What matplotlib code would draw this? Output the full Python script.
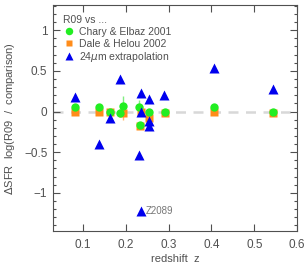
import numpy as np
import matplotlib
matplotlib.use('Agg')
from matplotlib import pyplot as plt
from matplotlib.ticker import MultipleLocator

# Chary & Elbaz 2001
ce_z = [0.082, 0.138, 0.163, 0.187, 0.194, 0.231, 0.255, 0.234, 0.292, 0.407, 0.543]
ce_d = [0.06, 0.06, -0.01, -0.02, 0.07, 0.06, 0.00, -0.16, -0.01, 0.05, 0.00]
ce_err = [0.0, 0.0, 0.0, 0.0, 0.12, 0.08, 0.0, 0.0, 0.0, 0.02, 0.03]

# Dale & Helou 2002
dh_z = [0.082, 0.138, 0.163, 0.194, 0.236, 0.255, 0.234, 0.292, 0.407, 0.543]
dh_d = [-0.01, -0.01, -0.01, -0.02, 0.0, -0.08, -0.18, -0.02, 0.0, -0.02]
dh_err = [0.03, 0.0, 0.0, 0.08, 0.0, 0.1, 0.0, 0.0, 0.0, 0.0]

# 24um extrapolation
ex_z = [0.082, 0.138, 0.163, 0.187, 0.236, 0.255, 0.236, 0.255, 0.255, 0.290,
        0.231, 0.236, 0.407, 0.543]
ex_d = [0.18, -0.40, -0.08, 0.40, 0.23, 0.15, 0.0, -0.12, -0.18, 0.20,
        -0.54, -1.23, 0.53, 0.28]
ex_err = [0.04, 0.0, 0.05, 0.0, 0.0, 0.0, 0.0, 0.0, 0.0, 0.0,
          0.0, 0.0, 0.0, 0.0]

plt.rcParams['font.family'] = ['Liberation Sans', 'DejaVu Sans']
texto = '#505050'

fig = plt.figure(figsize=(3.06, 2.64), dpi=100)
ax = fig.add_axes([0.173, 0.125, 0.798, 0.856])

ax.axhline(0, color='#d8d8d8', lw=1.8, ls=(0, (4, 3)), zorder=1)

ax.errorbar(ce_z, ce_d, yerr=ce_err, fmt='none', ecolor='#80ee80', elinewidth=1, zorder=2)
ax.errorbar(dh_z, dh_d, yerr=dh_err, fmt='none', ecolor='#ffb870', elinewidth=1, zorder=2)
ax.errorbar(ex_z, ex_d, yerr=ex_err, fmt='none', ecolor='#6060ff', elinewidth=1, zorder=2)

ax.plot(dh_z, dh_d, 's', color='#ff8c1a', ms=5.5, mec='none', zorder=3,
        label='Dale & Helou 2002')
ax.plot(ce_z, ce_d, 'o', color='#22ee22', ms=6, mec='none', zorder=4,
        label='Chary & Elbaz 2001')
ax.plot(ex_z, ex_d, '^', color='#0000ee', ms=6.5, mec='none', zorder=5,
        label='24$\\mu$m extrapolation')

ax.text(0.247, -1.23, 'Z2089', color='#777777', fontsize=7, va='center')

ax.set_xlim(0.03, 0.6)
ax.set_ylim(-1.47, 1.31)
ax.yaxis.set_minor_locator(MultipleLocator(0.1))
ax.set_xticks([0.1, 0.2, 0.3, 0.4, 0.5, 0.6])
ax.set_xticklabels(['0.1', '0.2', '0.3', '0.4', '0.5', '0.6'])
ax.set_yticks([-1, -0.5, 0, 0.5, 1])
ax.set_yticklabels(['\u22121', '\u22120.5', '0', '0.5', '1'])
ax.tick_params(which='both', direction='in', top=True, right=True,
               colors=texto, labelsize=8.5, width=0.8)
ax.tick_params(axis='x', pad=6)
ax.tick_params(axis='y', pad=4)
ax.tick_params(which='major', length=5)
ax.tick_params(which='minor', length=2.5)
for s in ax.spines.values():
    s.set_color(texto)
    s.set_linewidth(0.8)

ax.set_xlabel('redshift  z', color=texto, fontsize=8, labelpad=2)
ax.set_ylabel('$\\Delta$SFR  log(R09  /  comparison)', color=texto, fontsize=8, labelpad=5)

h, l = ax.get_legend_handles_labels()
leg = ax.legend([h[1], h[0], h[2]], [l[1], l[0], l[2]], loc='upper left',
                title='R09 vs ...', frameon=False, fontsize=7.5, title_fontsize=7.5,
                handletextpad=0.5, handlelength=1.0, labelspacing=0.15,
                borderaxespad=0.6, markerscale=0.9)
leg._legend_box.align = 'left'
for t in leg.get_texts():
    t.set_color(texto)
leg.get_title().set_color(texto)

fig.savefig('out.png', dpi=100)
